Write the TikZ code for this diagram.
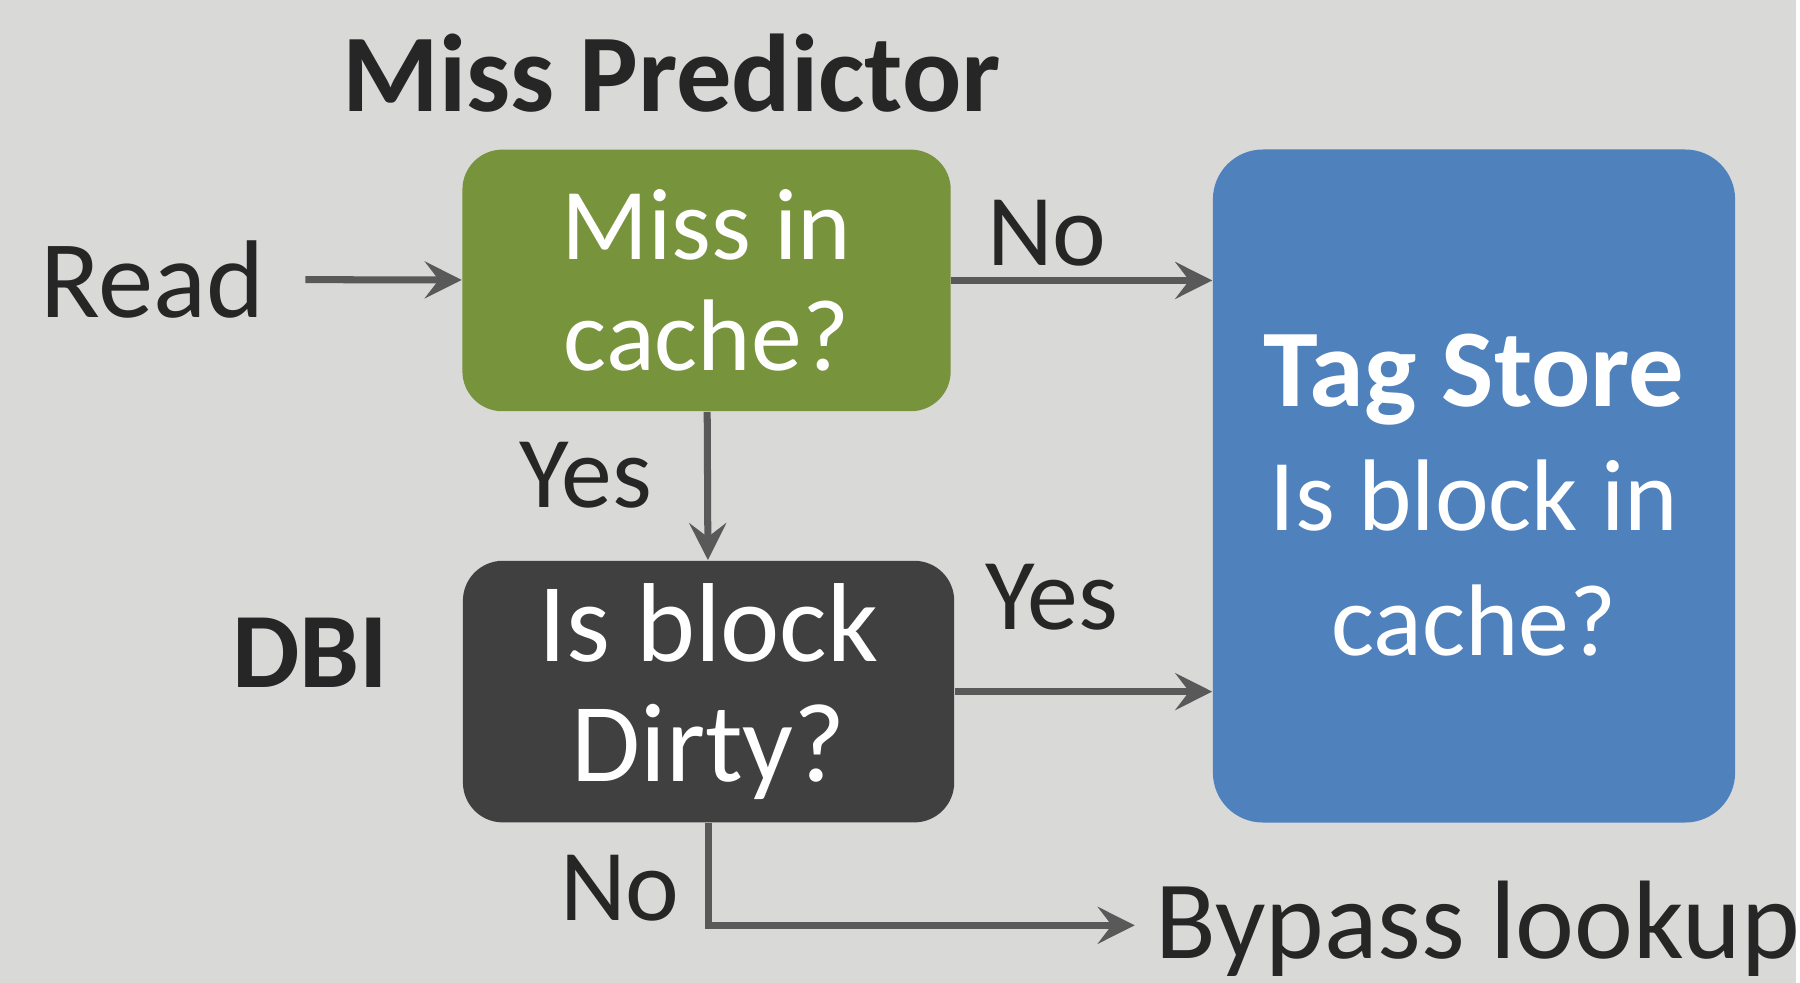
\documentclass[tikz,border=0pt]{standalone}
\usepackage{fontspec}
\setmainfont{Carlito}
\usepackage{tikz}
\usetikzlibrary{arrows.meta}
\usetikzlibrary{positioning}
\definecolor{bgGray}{HTML}{D9D9D8}
\definecolor{predGreen}{HTML}{77933C}
\definecolor{dbiGray}{HTML}{404040}
\definecolor{tagBlue}{HTML}{4F81BD}
\definecolor{lineGray}{HTML}{595959}
\definecolor{txtDark}{HTML}{262626}
\tikzstyle{predbox}=[rectangle,rounded corners=0.4cm,fill=predGreen,text=white,align=center,inner sep=0mm, minimum width=4.89cm, minimum height=2.62cm,font=\fontsize{29}{31.5}\selectfont]
\tikzstyle{dbibox}=[rectangle,rounded corners=0.4cm,fill=dbiGray,text=white,align=center,inner sep=0mm, minimum width=4.92cm, minimum height=2.62cm,font=\fontsize{32}{34}\selectfont]
\tikzstyle{tagbox}=[rectangle,rounded corners=0.5cm,fill=tagBlue,text=white,align=center,inner sep=0mm, minimum width=5.23cm, minimum height=6.74cm,font=\fontsize{29}{35.5}\selectfont]
\tikzstyle{lbl}=[text=txtDark,inner sep=0mm,anchor=base,font=\fontsize{29}{31}\selectfont]
\tikzstyle{head}=[text=txtDark,inner sep=0mm,anchor=base,font=\fontsize{31.5}{33}\selectfont\bfseries]
\tikzstyle{arrow}=[->,draw=lineGray,line width=2pt]
\tikzset{every picture/.style={
    >={Stealth[length=0.37cm,width=0.37cm,inset=0.14cm]}
  }
}
\begin{document}
\begin{tikzpicture}[x=0.01cm,y=-0.01cm]
        \fill[bgGray] (0,0) rectangle (1800,985);
        \node[predbox] at (708,281) (miss) {Miss in\\cache?};
        \node[dbibox] at (710,693) (dirty) {Is block\\Dirty?};
        \node[tagbox] at (1477,487) (tag) {};
        \node[text=white,align=center,inner sep=0mm,font=\fontsize{29}{35.5}\selectfont] at (1477,496) (tagtxt) {{\fontsize{31.5}{35.5}\selectfont\bfseries Tag Store}\\Is block in\\cache?};
        \node[head] at (673,112) (mp) {Miss Predictor};
        \node[head,font=\fontsize{30.5}{32}\selectfont\bfseries] at (311,689) (dbi) {DBI};
        \node[lbl,font=\fontsize{31.5}{33}\selectfont] at (153,318) (rd) {Read};
        \node[lbl] at (1049,266) (no1) {No};
        \node[lbl] at (587,509) (yes1) {Yes};
        \node[lbl] at (1054,631) (yes2) {Yes};
        \node[lbl] at (621,922) (no2) {No};
        \node[lbl,font=\fontsize{31.8}{33}\selectfont,anchor=base west] at (1157,960) (bypass) {Bypass lookup};
        \draw[arrow,shorten <=0.4cm] (rd) -- (miss);
        \draw[arrow] (miss) -- (tag.west |- miss);
        \draw[arrow] (miss) -- (dirty);
        \draw[arrow] (dirty) -- (tag.west |- dirty);
        \draw[arrow,shorten >=0.2cm] (dirty.south) |- ([yshift=0.03cm]bypass.west);
      \end{tikzpicture}
\end{document}
